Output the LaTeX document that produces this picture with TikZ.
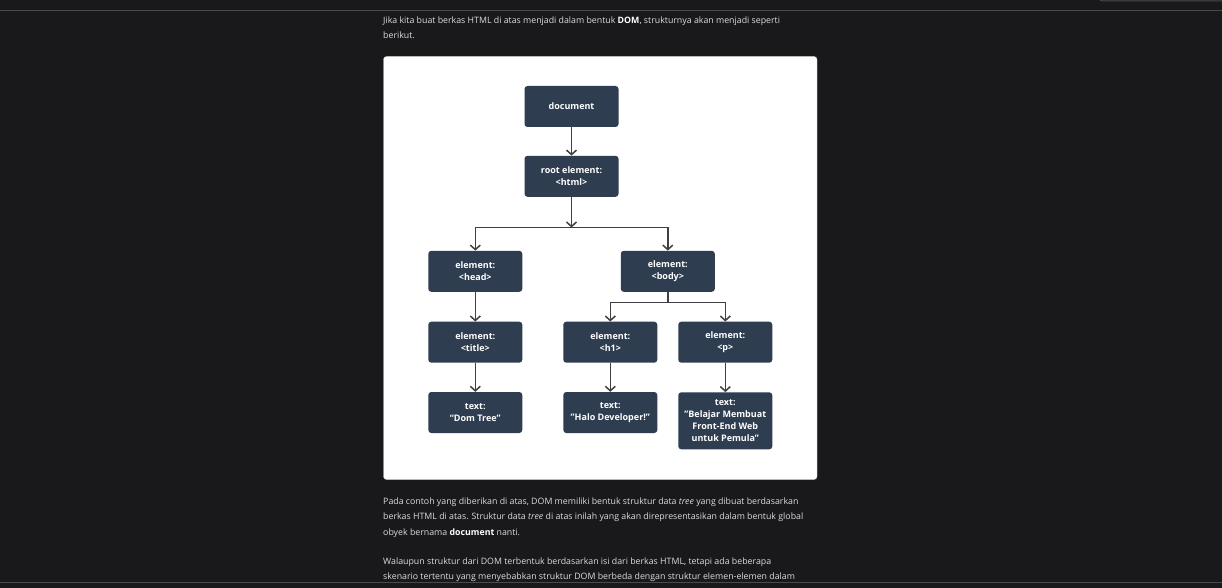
\documentclass[tikz,border=0pt]{standalone}
\usepackage{fontspec}
\setmainfont{Open Sans}
\usepackage{tikz}
\usetikzlibrary{arrows.meta,positioning}
\usepackage{xcolor}
\definecolor{pagebg}{HTML}{19191B}
\definecolor{boxfill}{HTML}{2E3D50}
\definecolor{linkcol}{HTML}{404040}
\definecolor{paratext}{HTML}{DCDCDC}
\definecolor{rulecol}{HTML}{4A4A4A}

\begin{document}
\begin{tikzpicture}[x=1pt,y=-1pt,
  domnode/.style={draw=none,fill=boxfill,rounded corners=3pt,minimum width=94pt,minimum height=41pt,
    inner sep=0pt,text=white,align=center,font=\fontsize{9}{11.9}\selectfont\bfseries},
  link/.style={draw=linkcol,line width=1.5pt},
  arr/.style={link,-{Straight Barb[length=4.5pt,width=10pt]}},
  para/.style={anchor=north west,inner sep=0pt,text=paratext,align=left,font=\fontsize{8.8}{15.5}\selectfont}]
  % page and card
  \useasboundingbox (0,0) rectangle (1222,588);
  \fill[pagebg] (0,0) rectangle (1222,588);
  \draw[rulecol,line width=1pt] (0,10.5) -- (1222,10.5);
  \draw[rulecol,line width=1pt] (0,582.5) -- (1222,582.5);
  \draw[rulecol,line width=1pt] (1097,-3) to[out=90,in=180] (1102,1) -- (1222,1);
  \draw[fill=white,draw=gray!40,rounded corners=3pt] (383.5,56.5) rectangle (817,479.5);
  % text around the picture
  \node[para] (intro) at (383,16.5) {Jika kita buat berkas HTML di atas menjadi dalam bentuk \textbf{\color{white}DOM}, strukturnya akan menjadi seperti\\berikut.};
  \node[para] (explain) at (383,497.3) {Pada contoh yang diberikan di atas, DOM memiliki bentuk struktur data \textit{tree} yang dibuat berdasarkan\\berkas HTML di atas. Struktur data \textit{tree} di atas inilah yang akan direpresentasikan dalam bentuk global\\obyek bernama \textbf{\color{white}document} nanti.};
  \node[para] (more) at (383,557.3) {Walaupun struktur dari DOM terbentuk berdasarkan isi dari berkas HTML, tetapi ada beberapa\\skenario tertentu yang menyebabkan struktur DOM berbeda dengan struktur elemen-elemen dalam};
  % tree
  \node[domnode] (doc) at (571.5,106.5) {document};
  \node[domnode] (root) at (571.5,176.3) {root element:\\<html>};
  \node[domnode] (head) at (475.3,271.3) {element:\\<head>};
  \node[domnode] (body) at (667.8,271.3) {element:\\<body>};
  \node[domnode] (title) at (475.3,342.2) {element:\\<title>};
  \node[domnode] (hone) at (610.3,342.2) {element:\\<h1>};
  \node[domnode] (para) at (725.3,342.2) {element:\\<p>};
  \node[domnode] (titletext) at (475.3,412.5) {text:\\“Dom Tree"};
  \node[domnode] (honetext) at (610.3,412.5) {text:\\"Halo Developer!"};
  \node[domnode,minimum height=57pt] (paratext) at (725.3,420.8) {text:\\"Belajar Membuat\\Front-End Web\\untuk Pemula"};
  \coordinate (splitroot) at (571.5,227.5);
  \coordinate (splitbody) at (667.8,302.5);
  \draw[arr] (doc) -- (root);
  \draw[arr] (root) -- (splitroot);
  \draw[arr] (splitroot) -| (head);
  \draw[arr] (splitroot) -| (body);
  \draw[link] (body) -- (splitbody);
  \draw[arr] (splitbody) -| (hone);
  \draw[arr] (splitbody) -| (para);
  \draw[arr] (head) -- (title);
  \draw[arr] (title) -- (titletext);
  \draw[arr] (hone) -- (honetext);
  \draw[arr] (para) -- (paratext);
\end{tikzpicture}
\end{document}
